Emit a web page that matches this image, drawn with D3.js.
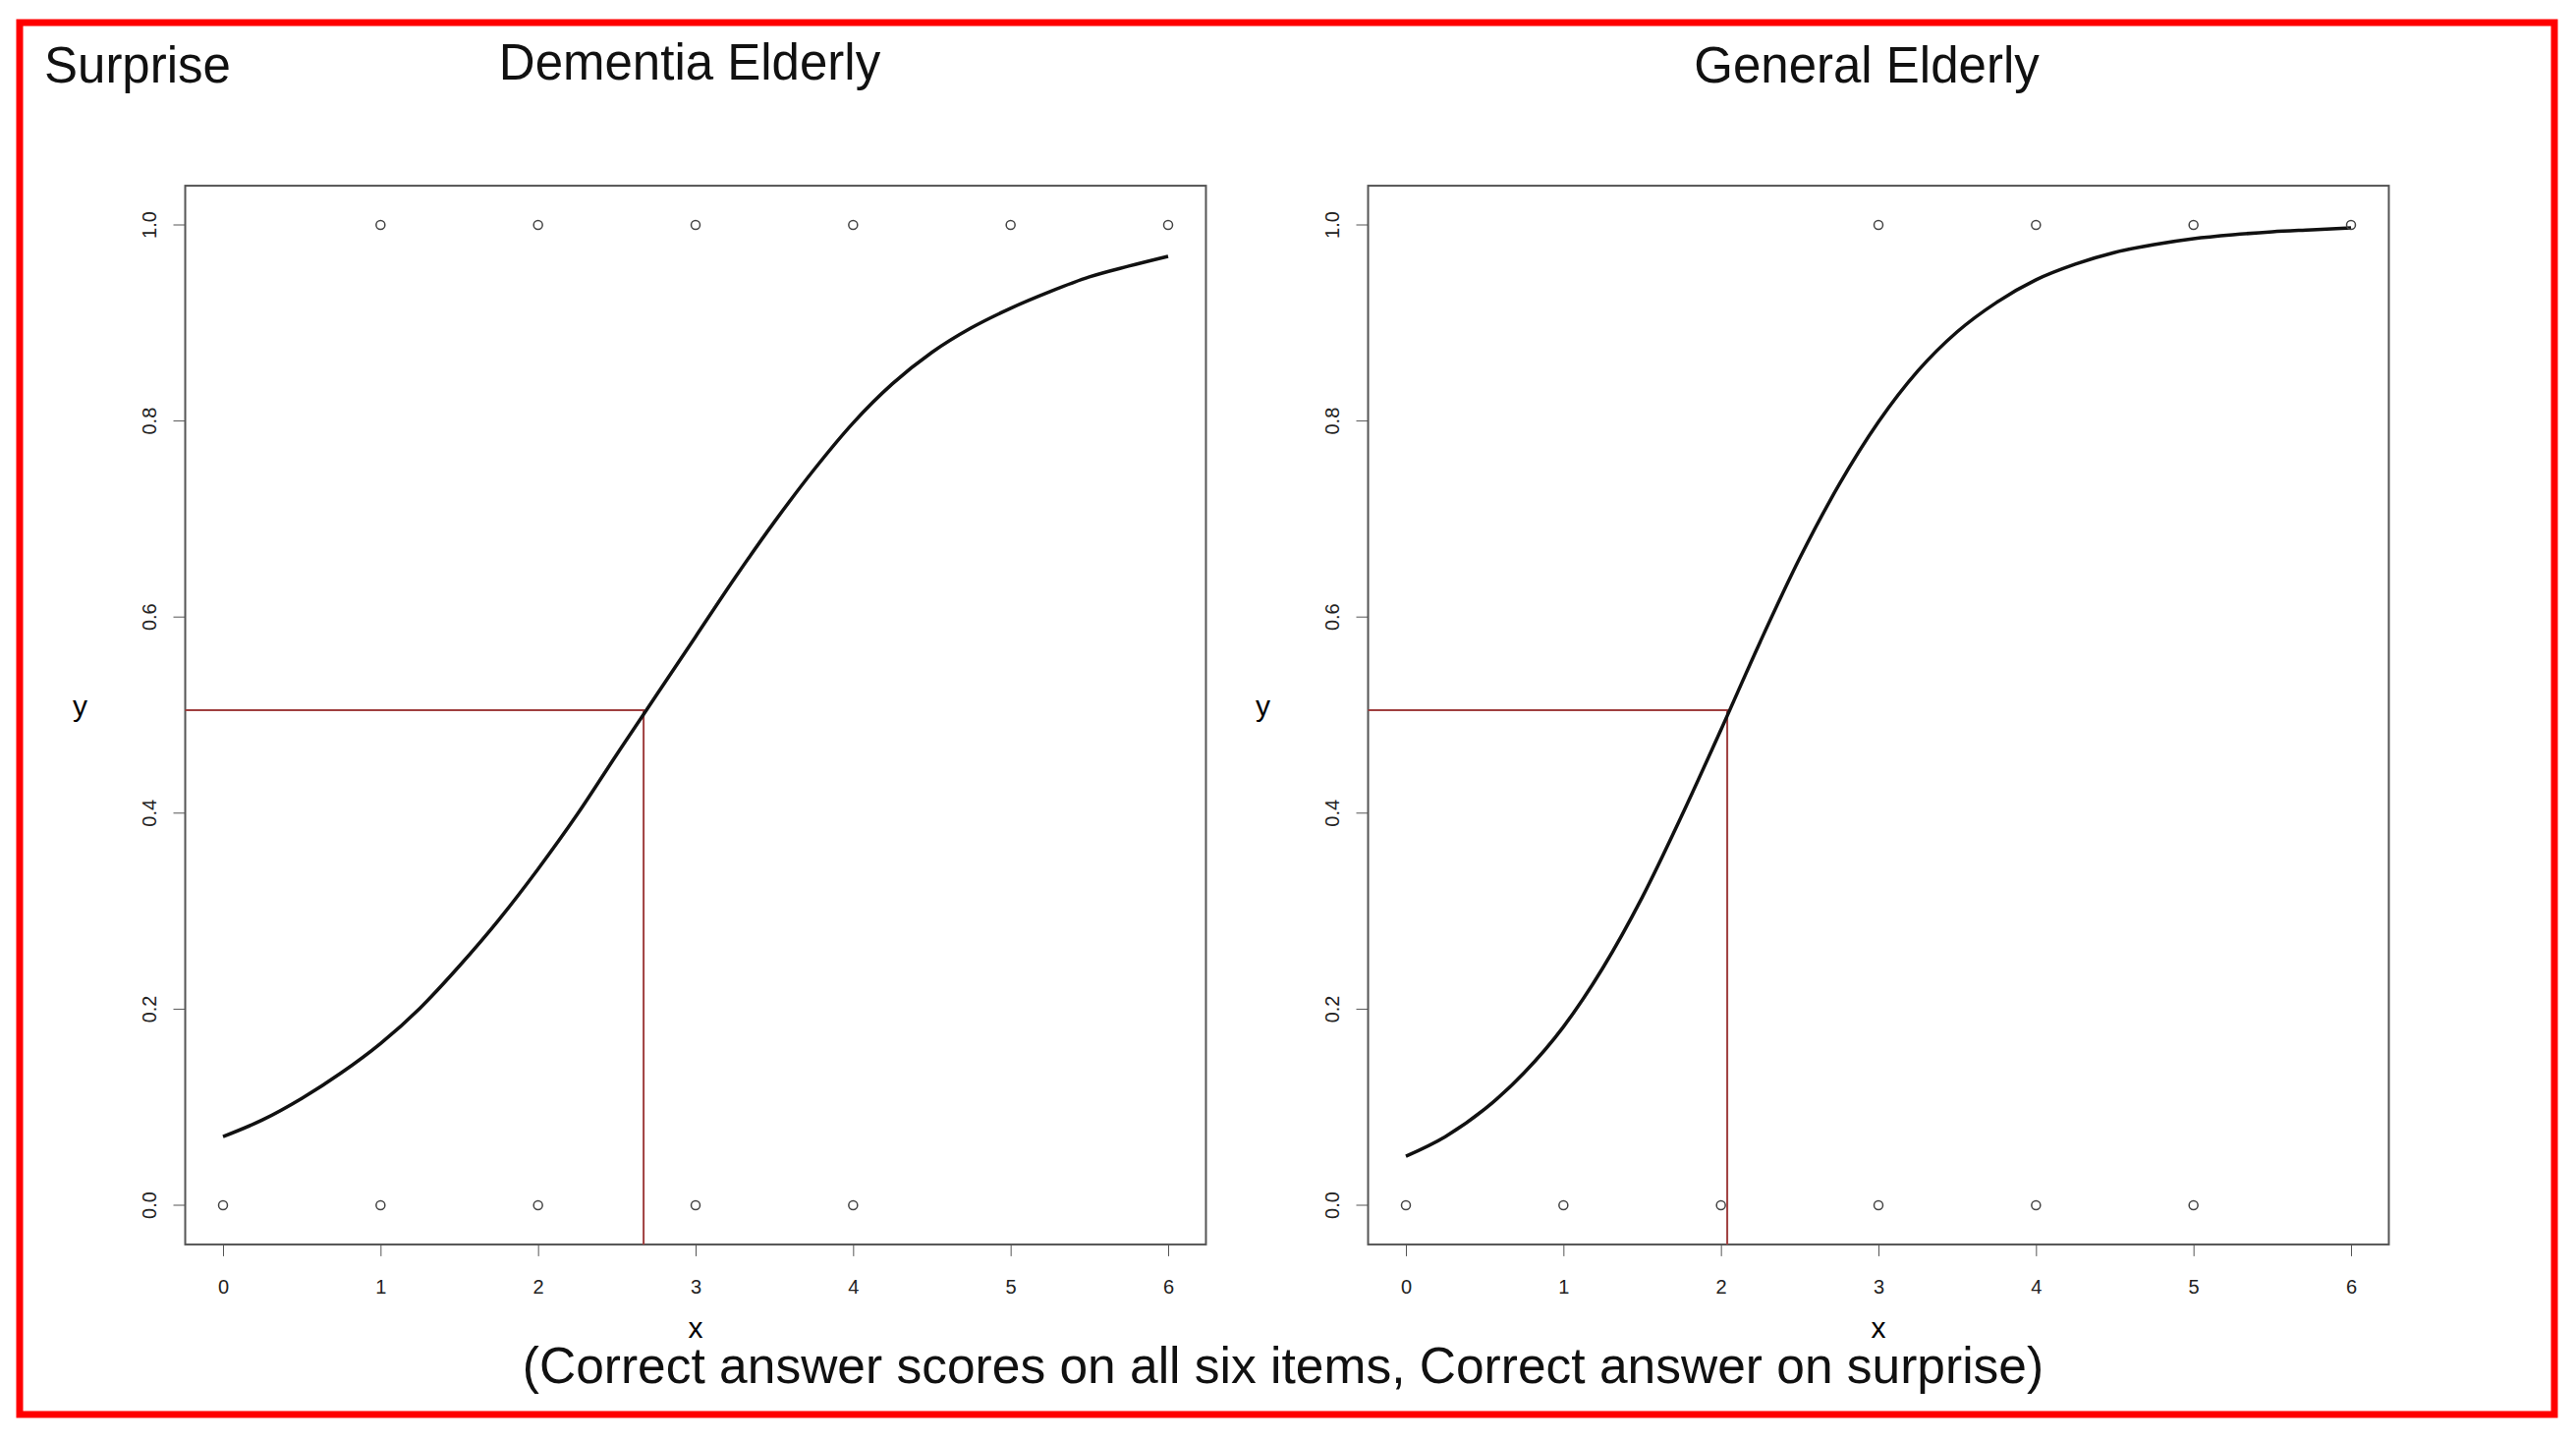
<!DOCTYPE html>
<html><head><meta charset="utf-8">
<script src="https://cdn.jsdelivr.net/npm/d3@7"></script>
<style>body{margin:0;background:#fff}</style></head>
<body><svg id="c" width="2622" height="1466"></svg>
<script>
const xTicks=[0,1,2,3,4,5,6];
const yTicks=[0,0.2,0.4,0.6,0.8,1.0];
const curveX=[0,0.25,0.5,0.75,1,1.25,1.5,1.75,2,2.25,2.5,2.75,3,3.25,3.5,3.75,4,4.25,4.5,4.75,5,5.25,5.5,5.75,6];
const dementiaCurve=[0.070,0.087,0.109,0.135,0.165,0.201,0.244,0.291,0.343,0.399,0.460,0.520,0.580,0.640,0.697,0.750,0.798,0.838,0.870,0.895,0.915,0.932,0.947,0.958,0.968];
const generalCurve=[0.050,0.070,0.098,0.135,0.182,0.242,0.314,0.397,0.485,0.575,0.660,0.735,0.799,0.851,0.891,0.921,0.944,0.960,0.972,0.980,0.986,0.990,0.993,0.995,0.997];
const dementiaOnes=[1,2,3,4,5,6], dementiaZeros=[0,1,2,3,4];
const generalOnes=[3,4,5,6], generalZeros=[0,1,2,3,4,5];
const dementiaCut=[2.67,0.505], generalCut=[2.04,0.505];

const svg=d3.select("#c");
svg.append("rect").attr("x",20).attr("y",23).attr("width",2580).attr("height",1417).attr("fill","none").attr("stroke","#f00").attr("stroke-width",7);
const F="Liberation Sans, Arial, sans-serif";
function txt(x,y,s,size,anchor){svg.append("text").attr("x",x).attr("y",y).attr("font-family",F).attr("font-size",size).attr("text-anchor",anchor||"middle").attr("fill","#111").text(s);}
txt(45,84,"Surprise",51,"start");
txt(702,81,"Dementia Elderly",51);
txt(1900,84,"General Elderly",51);
txt(1306,1408,"(Correct answer scores on all six items, Correct answer on surprise)",51.5);

function panel(x0,x6,curve,ones,zeros,cut){
  const x=d3.scaleLinear().domain([0,6]).range([x0,x6]);
  const y=d3.scaleLinear().domain([0,1]).range([1227,229]);
  const bx0=x(-0.24), bx1=x(6.24), by0=y(1.04), by1=y(-0.04);
  const g=svg.append("g");
  g.append("rect").attr("x",bx0).attr("y",by0).attr("width",bx1-bx0).attr("height",by1-by0).attr("fill","none").attr("stroke","#555").attr("stroke-width",2);
  const ax=g.append("g").attr("transform",`translate(0,${by1})`).call(d3.axisBottom(x).tickValues(xTicks).tickFormat(d3.format("d")).tickSize(12).tickPadding(24));
  ax.select(".domain").attr("d",`M${x(0)},0H${x(6)}`).attr("stroke","#555");
  ax.selectAll("text").attr("font-size",20).attr("font-family",F).attr("fill","#222");
  ax.selectAll("line").attr("stroke","#555");
  const ay=g.append("g").attr("transform",`translate(${bx0},0)`).call(d3.axisLeft(y).tickValues(yTicks).tickFormat(d3.format(".1f")).tickSize(12).tickPadding(8));
  ay.select(".domain").attr("d",`M0,${y(0)}V${y(1)}`).attr("stroke","#555");
  ay.selectAll("line").attr("stroke","#555");
  ay.selectAll("text").attr("font-size",20).attr("font-family",F).attr("fill","#222")
    .attr("text-anchor","middle").attr("dy",0).attr("transform",function(d){return `translate(-30,${y(d)}) rotate(-90)`;}).attr("x",0).attr("y",0);
  ay.selectAll(".tick").attr("transform",null);
  ay.selectAll(".tick line").attr("transform",d=>`translate(0,${y(d)})`);
  g.append("text").attr("x",(x0+x6)/2).attr("y",1362).attr("text-anchor","middle").attr("font-family",F).attr("font-size",30).text("x");
  g.append("text").attr("x",bx0-107).attr("y",729).attr("text-anchor","middle").attr("font-family",F).attr("font-size",30).text("y");
  g.append("path").attr("d",`M${bx0},${y(cut[1])}H${x(cut[0])}V${by1}`).attr("fill","none").attr("stroke","#a04040").attr("stroke-width",2);
  const line=d3.line().x((d,i)=>x(curveX[i])).y(d=>y(d)).curve(d3.curveMonotoneX);
  g.append("path").attr("d",line(curve)).attr("fill","none").attr("stroke","#111").attr("stroke-width",3.5);
  const pts=ones.map(v=>[v,1]).concat(zeros.map(v=>[v,0]));
  g.selectAll("circle.p").data(pts).enter().append("circle").attr("cx",d=>x(d[0])).attr("cy",d=>y(d[1])).attr("r",4.5).attr("fill","none").attr("stroke","#444").attr("stroke-width",1.5);
}
panel(227,1189,dementiaCurve,dementiaOnes,dementiaZeros,dementiaCut);
panel(1431,2393,generalCurve,generalOnes,generalZeros,generalCut);
</script></body></html>
